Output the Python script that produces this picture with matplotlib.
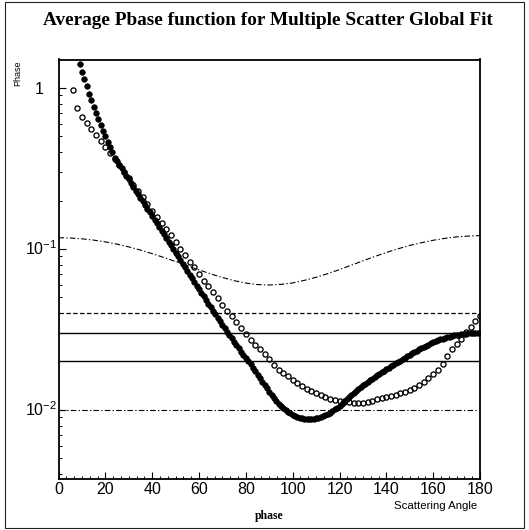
import numpy as np
import matplotlib
matplotlib.use("Agg")
import matplotlib.pyplot as plt
from matplotlib.ticker import FixedLocator, MultipleLocator, NullFormatter, LogLocator
from matplotlib.patches import Rectangle

plt.rcParams['font.family'] = ['Liberation Sans', 'DejaVu Sans']
plt.rcParams['mathtext.fontset'] = 'custom'
plt.rcParams['mathtext.rm'] = 'Liberation Sans'
plt.rcParams['mathtext.it'] = 'Liberation Sans:italic'

title = "Average Pbase function for Multiple Scatter Global Fit"
y_title = "Phase"
x_title = "Scattering Angle"
hist_name = "phase"

x_ticks = [0, 20, 40, 60, 80, 100, 120, 140, 160, 180]
y_major = [1.0, 0.1, 0.01]
y_labels = ["1", r"$10^{-1}$", r"$10^{-2}$"]

# fitted phase function, one point per degree (log10 of value)
filled_angle = np.arange(9, 181)
filled_log10 = [
    0.147, 0.098,
    0.054, 0.010, -0.035, -0.077, -0.118, -0.157, -0.195, -0.232, -0.267, -0.300,
    -0.334, -0.367, -0.400, -0.432, -0.455, -0.478, -0.500, -0.523, -0.546, -0.568,
    -0.591, -0.614, -0.637, -0.659, -0.682, -0.705, -0.727, -0.750, -0.773, -0.796,
    -0.818, -0.841, -0.864, -0.886, -0.909, -0.932, -0.955, -0.977, -1.000, -1.023,
    -1.045, -1.068, -1.091, -1.114, -1.136, -1.159, -1.182, -1.204, -1.227, -1.250,
    -1.272, -1.295, -1.318, -1.340, -1.362, -1.385, -1.407, -1.429, -1.450, -1.472,
    -1.493, -1.514, -1.535, -1.556, -1.576, -1.597, -1.617, -1.637, -1.657, -1.677,
    -1.697, -1.717, -1.738, -1.760, -1.782, -1.804, -1.826, -1.843, -1.865, -1.887,
    -1.907, -1.925, -1.943, -1.960, -1.975, -1.988, -2.000, -2.012, -2.022, -2.030,
    -2.037, -2.043, -2.048, -2.052, -2.055, -2.057, -2.058, -2.057, -2.056, -2.053,
    -2.050, -2.045, -2.040, -2.033, -2.026, -2.017, -2.008, -1.997, -1.986, -1.973,
    -1.960, -1.945, -1.932, -1.919, -1.906, -1.894, -1.882, -1.870, -1.858, -1.847,
    -1.836, -1.825, -1.815, -1.805, -1.795, -1.785, -1.776, -1.767, -1.758, -1.748,
    -1.739, -1.730, -1.720, -1.711, -1.702, -1.693, -1.684, -1.675, -1.666, -1.657,
    -1.648, -1.640, -1.632, -1.624, -1.616, -1.608, -1.601, -1.594, -1.587, -1.580,
    -1.574, -1.568, -1.562, -1.557, -1.552, -1.548, -1.544, -1.540, -1.537, -1.534,
    -1.532, -1.530, -1.528, -1.526, -1.525, -1.524, -1.523, -1.522, -1.521, -1.520,
]

# measured average phase function, every two degrees (log10 of value)
open_angle = np.arange(6, 181, 2)
open_log10 = [
    -0.012, -0.126, -0.178, -0.218, -0.256, -0.290, -0.327, -0.368, -0.406, -0.443,
    -0.478, -0.520, -0.562, -0.603, -0.640, -0.680, -0.720, -0.763, -0.803, -0.840,
    -0.877, -0.915, -0.958, -1.000, -1.035, -1.078, -1.115, -1.153, -1.196, -1.233,
    -1.265, -1.303, -1.345, -1.385, -1.418, -1.455, -1.490, -1.527, -1.563, -1.595,
    -1.622, -1.652, -1.683, -1.722, -1.750, -1.769, -1.790, -1.811, -1.835, -1.852,
    -1.867, -1.880, -1.895, -1.909, -1.919, -1.930, -1.940, -1.946, -1.951, -1.953,
    -1.954, -1.954, -1.954, -1.952, -1.945, -1.935, -1.925, -1.918, -1.913, -1.905,
    -1.897, -1.888, -1.878, -1.865, -1.848, -1.826, -1.802, -1.778, -1.752, -1.716,
    -1.668, -1.622, -1.588, -1.558, -1.515, -1.482, -1.450, -1.414,
]

# Rayleigh-like component (log10 of value)
rayleigh_angle = np.arange(0, 181, 5)
rayleigh_log10 = [
    -0.930, -0.932, -0.937, -0.945, -0.956, -0.970, -0.987, -1.007, -1.029, -1.053,
    -1.078, -1.104, -1.130, -1.155, -1.177, -1.197, -1.212, -1.221, -1.224, -1.220,
    -1.211, -1.195, -1.176, -1.153, -1.128, -1.101, -1.074, -1.047, -1.022, -0.999,
    -0.978, -0.961, -0.946, -0.934, -0.925, -0.920, -0.917,
]

# constant reference levels
level_dashed = 0.04
level_solid = [0.03, 0.02]
level_dashdot = 0.01

W_PX, H_PX = 529, 530
fig = plt.figure(figsize=(W_PX / 100, H_PX / 100), dpi=100)

ax_l, ax_r, ax_t, ax_b = 58.5, 480.0, 59.5, 479.0
ax = fig.add_axes([ax_l / W_PX, 1 - ax_b / H_PX,
                   (ax_r - ax_l) / W_PX, (ax_b - ax_t) / H_PX])
ax.set_yscale('log')
ax.set_xlim(0, 180)
ax.set_ylim(0.003724, 1.503)

dashdot = (0, (5, 2, 1.2, 2))
ax.plot(rayleigh_angle, np.power(10.0, rayleigh_log10), color='black', lw=0.8,
        linestyle=dashdot)
ax.axhline(level_dashed, color='black', lw=0.9, linestyle=(0, (3.5, 2)))
for lvl in level_solid:
    ax.axhline(lvl, color='black', lw=1.0)
ax.axhline(level_dashdot, color='black', lw=0.8, linestyle=dashdot)

ax.plot(filled_angle, np.power(10.0, filled_log10), linestyle='none', marker='o',
        ms=4.0, mfc='black', mec='black', mew=0.5)
ax.plot(open_angle, np.power(10.0, open_log10), linestyle='none', marker='o',
        ms=3.7, mfc='none', mec='black', mew=0.95)

for s in ax.spines.values():
    s.set_linewidth(1.3)

ax.xaxis.set_major_locator(FixedLocator(x_ticks))
ax.xaxis.set_minor_locator(MultipleLocator(20 / 6))
ax.set_xticklabels([str(t) for t in x_ticks], fontsize=11.5)
ax.tick_params(axis='x', which='major', direction='in', length=5, width=0.8, pad=2.5)
ax.tick_params(axis='x', which='minor', direction='in', length=2.3, width=0.7)

ax.yaxis.set_major_locator(FixedLocator(y_major))
ax.yaxis.set_minor_locator(LogLocator(base=10, subs=np.arange(2, 10)))
ax.yaxis.set_major_formatter(NullFormatter())
ax.yaxis.set_minor_formatter(NullFormatter())
ax.tick_params(axis='y', which='major', direction='in', length=5, width=0.8)
ax.tick_params(axis='y', which='minor', direction='in', length=2.5, width=0.7)
ax.tick_params(top=False, right=False, which='both')

for val, lab in zip(y_major, y_labels):
    dx = -11.0 if lab == "1" else -1.0
    ax.annotate(lab, xy=(0, val), xycoords=('axes fraction', 'data'),
                xytext=(dx, -4.2), textcoords='offset points',
                ha='right', va='baseline', fontsize=11.5)

fig.text(267.5 / W_PX, 1 - 25 / H_PX, title, ha='center', va='baseline',
         fontsize=13.9, fontweight='bold', family=['Liberation Serif', 'DejaVu Serif'])
fig.text(17.7 / W_PX, 1 - 60 / H_PX, y_title, rotation=90, ha='center', va='top',
         fontsize=6.5)
fig.text(477 / W_PX, 1 - 509 / H_PX, x_title, ha='right', va='baseline', fontsize=8.2)
fig.text(269 / W_PX, 1 - 519 / H_PX, hist_name, ha='center', va='baseline',
         fontsize=8.5, fontweight='bold', family=['Liberation Serif', 'DejaVu Serif'])

fig.patches.append(Rectangle((5 / W_PX, 2 / H_PX), 519 / W_PX, 526 / H_PX,
                             transform=fig.transFigure, fill=False,
                             edgecolor='#222222', lw=0.8))

fig.savefig('out.png', dpi=100)
